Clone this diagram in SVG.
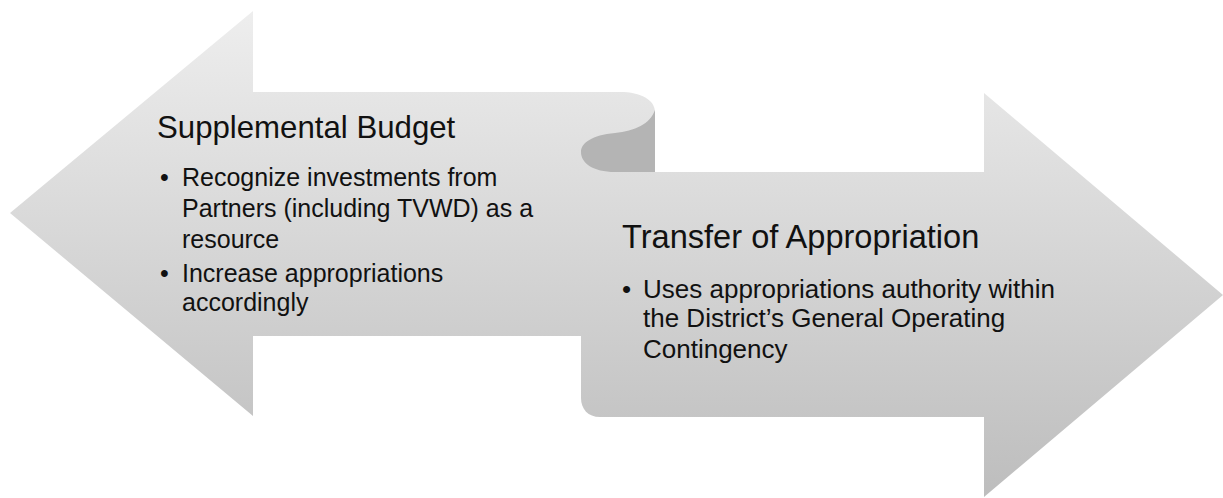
<svg xmlns="http://www.w3.org/2000/svg" width="1223" height="498" viewBox="0 0 1223 498">
  <defs>
    <!-- shared vertical shading so the two arrows blend where they overlap -->
    <linearGradient id="shade" gradientUnits="userSpaceOnUse" x1="0" y1="0" x2="0" y2="498">
      <stop offset="0" stop-color="#efefef"/>
      <stop offset="1" stop-color="#bdbdbd"/>
    </linearGradient>
    <style>
      .arrow { fill: url(#shade); stroke: none; }
      .curl { fill: #b4b4b4; stroke: none; }
      .title { font-family: "Liberation Sans", Arial, sans-serif; fill: #111111; }
      .item { font-family: "Liberation Sans", Arial, sans-serif; fill: #111111; }
    </style>
  </defs>
  <rect width="1223" height="498" fill="#ffffff"/>

  <!-- right-pointing arrow -->
  <g id="transfer-of-appropriation">
    <path class="arrow" d="M1223,295 L984,93 L984,172 L581,172 L581,398 C581,409 588,417 600,417 L984,417 L984,497 Z"/>
  </g>

  <!-- left-pointing arrow -->
  <g id="supplemental-budget">
    <path class="arrow" d="M10,213 L253,11 L253,92 L620,92 C641,92 655,100 655,112 L655,336 L253,336 L253,416 Z"/>
    <text class="title" x="157" y="138" font-size="31.2">Supplemental Budget</text>
    <g class="item" font-size="25">
      <text x="160" y="186">•</text>
      <text x="182" y="186">Recognize investments from</text>
      <text x="182" y="217">Partners (including TVWD) as a</text>
      <text x="182" y="248">resource</text>
      <text x="160" y="282">•</text>
      <text x="182" y="282">Increase appropriations</text>
      <text x="182" y="311">accordingly</text>
    </g>
  </g>

  <!-- rolled-over fold joining the two shafts -->
  <g id="fold">
    <path class="curl" d="M655,110 C650,124 635,131 615,133 C592,135 581,143 581,152 C581,163 593,172 615,172 L655,172 Z"/>
  </g>

  <g id="transfer-text">
    <text class="title" x="622" y="248" font-size="32.6">Transfer of Appropriation</text>
    <g class="item" font-size="26">
      <text x="622" y="298">•</text>
      <text x="643" y="298">Uses appropriations authority within</text>
      <text x="643" y="327">the District’s General Operating</text>
      <text x="643" y="358">Contingency</text>
    </g>
  </g>

  <g id="connectors"/>
</svg>
